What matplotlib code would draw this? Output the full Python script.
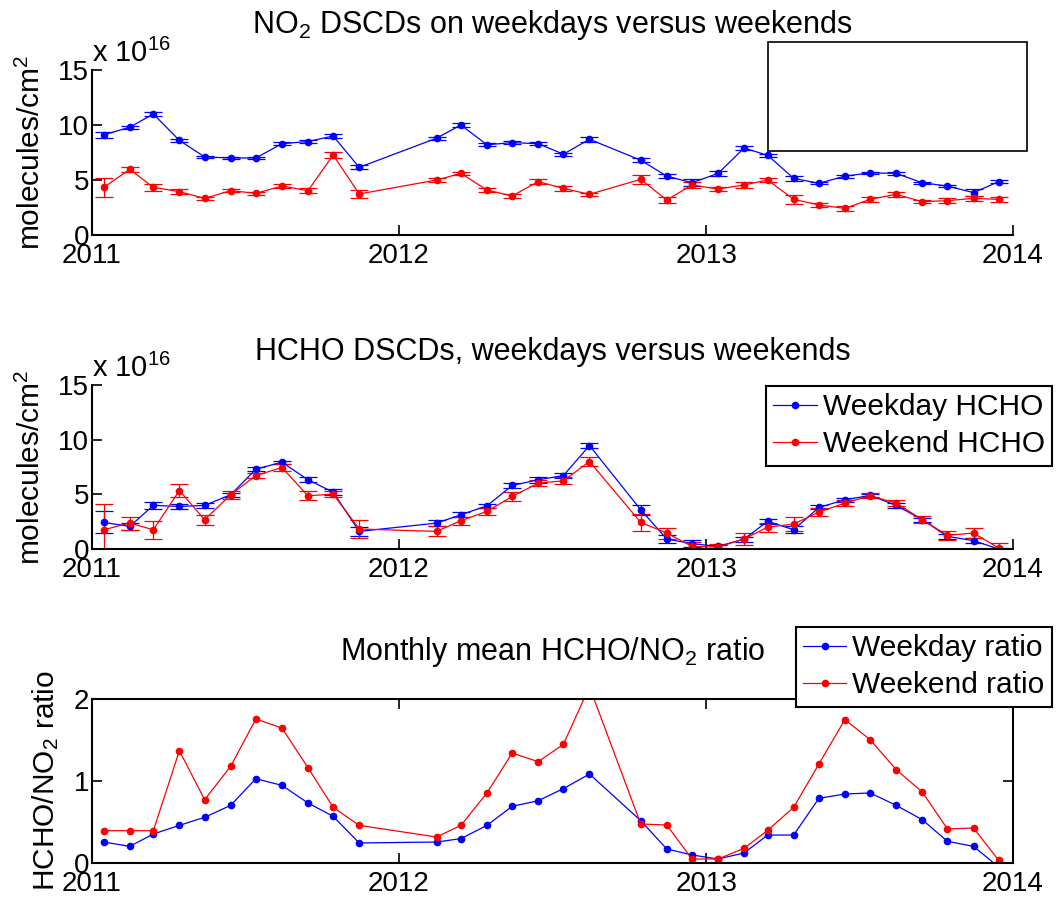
import matplotlib
matplotlib.use('Agg')
import matplotlib.pyplot as plt
import matplotlib.dates as mdates
from matplotlib.patches import Rectangle
from matplotlib.lines import Line2D
import pandas as pd

plt.rcParams['font.family'] = ['Liberation Sans', 'DejaVu Sans']
plt.rcParams['mathtext.fontset'] = 'custom'
plt.rcParams['mathtext.rm'] = 'Liberation Sans'
plt.rcParams['mathtext.it'] = 'Liberation Sans:italic'

# monthly means (Dec 2011, Jan 2012 and Sep 2012 missing)
months = ['2011-01', '2011-02', '2011-03', '2011-04', '2011-05', '2011-06',
          '2011-07', '2011-08', '2011-09', '2011-10', '2011-11',
          '2012-02', '2012-03', '2012-04', '2012-05', '2012-06', '2012-07',
          '2012-08', '2012-10', '2012-11', '2012-12',
          '2013-01', '2013-02', '2013-03', '2013-04', '2013-05', '2013-06',
          '2013-07', '2013-08', '2013-09', '2013-10', '2013-11', '2013-12']

# NO2 DSCDs, units of 1e16 molecules/cm2
no2_wd = [9.1, 9.8, 11.0, 8.6, 7.1, 7.0, 7.0, 8.3, 8.5, 9.0, 6.15,
          8.8, 10.0, 8.2, 8.4, 8.3, 7.35, 8.7, 6.8, 5.35, 4.75,
          5.6, 7.9, 7.25, 5.15, 4.7, 5.35, 5.65, 5.6, 4.75, 4.45, 3.85, 4.85]
no2_wd_err = [0.3, 0.15, 0.15, 0.13, 0.1, 0.12, 0.12, 0.12, 0.13, 0.2, 0.17,
              0.15, 0.15, 0.12, 0.12, 0.15, 0.15, 0.2, 0.2, 0.2, 0.3,
              0.2, 0.2, 0.15, 0.2, 0.1, 0.15, 0.1, 0.12, 0.1, 0.1, 0.3, 0.15]
no2_we = [4.33, 5.97, 4.33, 3.94, 3.33, 4.03, 3.79, 4.45, 4.03, 7.27, 3.73,
          5.0, 5.6, 4.09, 3.55, 4.85, 4.24, 3.7, 5.06, 3.18, 4.55,
          4.18, 4.55, 5.0, 3.24, 2.73, 2.42, 3.24, 3.7, 3.03, 3.12, 3.33, 3.24]
no2_we_err = [0.83, 0.23, 0.3, 0.2, 0.15, 0.15, 0.15, 0.15, 0.2, 0.25, 0.38,
              0.15, 0.15, 0.2, 0.15, 0.2, 0.2, 0.15, 0.38, 0.27, 0.3,
              0.2, 0.25, 0.2, 0.38, 0.2, 0.2, 0.2, 0.2, 0.15, 0.2, 0.25, 0.25]

# HCHO DSCDs, units of 1e16 molecules/cm2
hcho_wd = [2.43, 2.07, 3.99, 3.89, 3.99, 4.96, 7.3, 7.94, 6.33, 5.2, 1.61,
           2.37, 3.13, 3.95, 5.81, 6.33, 6.72, 9.46, 3.59, 0.91, 0.49,
           0.24, 0.91, 2.53, 1.76, 3.8, 4.5, 4.9, 3.99, 2.68, 1.16, 0.76, 0.0]
hcho_wd_err = [1.0, 0.3, 0.3, 0.2, 0.23, 0.2, 0.2, 0.15, 0.23, 0.3, 0.4,
               0.3, 0.23, 0.2, 0.27, 0.27, 0.2, 0.23, 0.45, 0.38, 0.3,
               0.15, 0.23, 0.23, 0.3, 0.18, 0.2, 0.15, 0.2, 0.2, 0.23, 0.23, 0.1]
hcho_we = [1.76, 2.37, 1.76, 5.35, 2.68, 4.96, 6.72, 7.45, 4.87, 5.02, 1.83,
           1.61, 2.59, 3.44, 4.81, 6.02, 6.24, 8.0, 2.43, 1.46, 0.24,
           0.18, 0.91, 2.0, 2.28, 3.38, 4.2, 4.87, 4.2, 2.68, 1.25, 1.46, 0.09]
hcho_we_err = [2.4, 0.6, 0.8, 0.56, 0.45, 0.38, 0.26, 0.3, 0.4, 0.3, 0.8,
               0.45, 0.38, 0.3, 0.38, 0.3, 0.33, 0.38, 0.76, 0.5, 0.4,
               0.3, 0.55, 0.4, 0.65, 0.38, 0.3, 0.23, 0.3, 0.3, 0.4, 0.45, 0.5]

# HCHO/NO2 ratio
ratio_wd = [0.256, 0.203, 0.354, 0.459, 0.557, 0.703, 1.028, 0.947, 0.732, 0.569, 0.244,
            0.256, 0.297, 0.459, 0.691, 0.76, 0.907, 1.085, 0.516, 0.171, 0.098,
            0.049, 0.122, 0.341, 0.341, 0.789, 0.841, 0.854, 0.703, 0.528, 0.264, 0.203, -0.05]
ratio_we = [0.394, 0.394, 0.394, 1.37, 0.772, 1.179, 1.756, 1.646, 1.163, 0.679, 0.459,
            0.317, 0.459, 0.854, 1.341, 1.236, 1.447, 2.15, 0.476, 0.463, 0.049,
            0.049, 0.179, 0.398, 0.679, 1.207, 1.748, 1.504, 1.138, 0.866, 0.415, 0.427, 0.033]

year_ticks = ['2011', '2012', '2013', '2014']

dates = pd.to_datetime([m + '-15' for m in months])
ticks = pd.to_datetime([y + '-01-01' for y in year_ticks])

fig = plt.figure(figsize=(10.59, 8.98), dpi=100)
W, H = 1059.0, 898.0
left, width = 92 / W, (1013 - 92) / W
ax1 = fig.add_axes([left, (H - 235) / H, width, 165 / H])
ax2 = fig.add_axes([left, (H - 549) / H, width, 164 / H])
ax3 = fig.add_axes([left, (H - 863) / H, width, 164 / H])

ekw = dict(fmt='o-', lw=0.9, ms=4.5, capsize=6.5, elinewidth=0.9, capthick=0.9)

ax1.errorbar(dates, no2_wd, yerr=no2_wd_err, color='b', **ekw)
ax1.errorbar(dates, no2_we, yerr=no2_we_err, color='r', **ekw)
ax2.errorbar(dates, hcho_wd, yerr=hcho_wd_err, color='b', **ekw)
ax2.errorbar(dates, hcho_we, yerr=hcho_we_err, color='r', **ekw)
ax3.plot(dates, ratio_wd, 'o-', color='b', lw=0.9, ms=4.5)
ax3.plot(dates, ratio_we, 'o-', color='r', lw=0.9, ms=4.5)

for ax in (ax1, ax2, ax3):
    ax.set_xlim(ticks[0], ticks[-1])
    ax.set_xticks(ticks)
    ax.xaxis.set_major_formatter(mdates.DateFormatter('%Y'))
    ax.tick_params(direction='in', length=7, width=1.2, labelsize=20, pad=5.5)
    ax.tick_params(axis='y', pad=2)
    for s in ax.spines.values():
        s.set_linewidth(1.5)

for ax in (ax1, ax2):
    ax.set_ylim(0, 15)
    ax.set_yticks([0, 5, 10, 15])
    ax.spines['top'].set_visible(False)
    ax.spines['right'].set_visible(False)
    ax.set_ylabel('molecules/cm$^2$', fontsize=21.5)
    ax.yaxis.set_label_coords(-0.05, 0.5)
    ax.text(0.0, 1.048, r'x 10$^{16}$', transform=ax.transAxes, fontsize=21,
            ha='left', va='baseline')

ax3.set_ylim(0, 2)
ax3.set_yticks([0, 1, 2])
ax3.tick_params(top=True, right=True)
ax3.set_ylabel('HCHO/NO$_2$ ratio', fontsize=21.5)
ax3.yaxis.set_label_coords(-0.034, 0.5)

ax1.set_title('NO$_2$ DSCDs on weekdays versus weekends', fontsize=22, pad=27)
ax2.set_title('HCHO DSCDs, weekdays versus weekends', fontsize=22, pad=18)
ax3.set_title('Monthly mean HCHO/NO$_2$ ratio', fontsize=22, pad=28)

# empty legend box left in the top panel
fig.add_artist(Rectangle((768 / W, (H - 151) / H), 259 / W, 109 / H,
                         transform=fig.transFigure, facecolor='white',
                         edgecolor='black', lw=1.2, zorder=5))

def leg(ax, labels, top):
    h = [Line2D([], [], color=c, marker='o', ms=4.5, lw=0.9) for c in ('b', 'r')]
    lg = ax.legend(h, labels, loc='upper right', bbox_to_anchor=(1052 / W, (H - top) / H),
                   bbox_transform=fig.transFigure, borderaxespad=0, fontsize=21.5,
                   fancybox=False, framealpha=1, edgecolor='black', handlelength=1.45,
                   handletextpad=0.2, labelspacing=0.3, borderpad=0.25)
    lg.get_frame().set_linewidth(1.5)
    lg.set_zorder(6)

leg(ax2, ['Weekday HCHO', 'Weekend HCHO'], 386)
leg(ax3, ['Weekday ratio', 'Weekend ratio'], 627)

fig.savefig('out.png', dpi=100)
